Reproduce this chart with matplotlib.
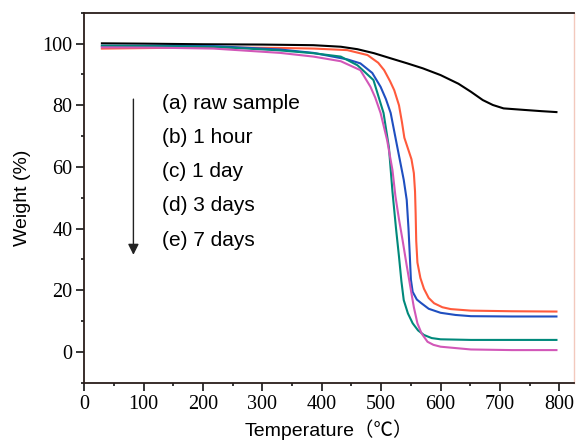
import numpy as np
import matplotlib
matplotlib.use('Agg')
from matplotlib import pyplot as plt
from matplotlib.ticker import MultipleLocator

# TGA curves (temperature in C, weight in %)
t_a = [30, 100, 200, 300, 386, 432, 460, 488, 515, 544, 570, 600, 630, 651, 671, 688, 706, 741, 770, 795]
w_a = [100.1, 100.0, 99.8, 99.7, 99.5, 99.0, 98.2, 96.9, 95.3, 93.6, 92.0, 89.8, 87.0, 84.4, 81.7, 80.1, 79.0, 78.5, 78.1, 77.8]

t_b = [30, 120, 218, 330, 387, 443, 477, 495, 505, 515, 522, 530, 535, 539, 545, 551, 555, 557, 558, 559, 561, 566, 572, 580, 589, 603, 617, 651, 720, 795]
w_b = [98.4, 98.6, 98.8, 98.6, 98.4, 97.9, 96.3, 93.8, 91.4, 87.8, 84.9, 80.0, 74.5, 69.5, 66.0, 62.5, 58.0, 52.0, 45.0, 36.0, 29.0, 24.0, 20.5, 17.5, 15.8, 14.5, 13.9, 13.4, 13.2, 13.1]

t_c = [30, 120, 218, 330, 386, 443, 465, 485, 499, 508, 516, 527, 538, 543, 546, 548, 550, 553, 560, 567, 580, 600, 625, 651, 720, 795]
w_c = [99.3, 99.3, 99.2, 98.1, 97.0, 94.9, 93.6, 90.5, 86.0, 82.0, 77.5, 66.6, 55.8, 49.3, 40.0, 32.0, 23.5, 19.5, 17.0, 15.9, 14.0, 12.7, 12.0, 11.6, 11.5, 11.5]

t_d = [30, 120, 218, 330, 386, 432, 460, 487, 504, 513, 519, 525, 530, 534, 538, 545, 553, 562, 572, 585, 600, 651, 720, 795]
w_d = [99.3, 99.2, 99.0, 97.8, 96.9, 95.8, 93.0, 88.2, 77.5, 66.4, 52.0, 40.0, 30.9, 23.0, 16.8, 12.5, 9.3, 7.0, 5.5, 4.5, 4.1, 3.9, 3.9, 3.9]

t_e = [30, 120, 218, 330, 386, 432, 465, 482, 490, 499, 510, 519, 524, 530, 536, 543, 550, 555, 561, 568, 578, 588, 600, 651, 720, 795]
w_e = [98.8, 98.7, 98.4, 97.0, 95.8, 94.3, 91.4, 86.0, 82.5, 77.5, 68.7, 59.0, 50.5, 43.0, 36.3, 28.0, 20.1, 14.5, 9.3, 6.0, 3.3, 2.3, 1.7, 0.8, 0.6, 0.6]

labels = ['(a) raw sample', '(b) 1 hour', '(c) 1 day', '(d) 3 days', '(e) 7 days']
colors = ['#000000', '#ff5a3c', '#1f4fc0', '#00897b', '#d257b8']

fig = plt.figure(figsize=(5.76, 4.42), dpi=100)
ax = fig.add_axes([0.146, 0.134, 0.851, 0.837])

for t, w, c in zip([t_a, t_b, t_c, t_d, t_e], [w_a, w_b, w_c, w_d, w_e], colors):
    ax.plot(t, w, color=c, lw=1.5, solid_joinstyle='round')

ax.set_xlim(0, 825)
ax.set_ylim(-10, 110)
ax.xaxis.set_major_locator(MultipleLocator(100))
ax.xaxis.set_minor_locator(MultipleLocator(50))
ax.yaxis.set_major_locator(MultipleLocator(20))
ax.yaxis.set_minor_locator(MultipleLocator(10))
ax.tick_params(which='major', direction='out', length=5.5, width=1.1, labelsize=14.5, pad=3)
ax.tick_params(which='minor', direction='out', length=2.5, width=1.1)
for lab in ax.get_xticklabels() + ax.get_yticklabels():
    lab.set_family('Liberation Serif')

for s in ['left', 'bottom', 'top']:
    ax.spines[s].set_linewidth(1.3)
    ax.spines[s].set_color('#2a1e1a')
ax.spines['right'].set_color('#f3c9bd')
ax.spines['right'].set_linewidth(1.0)

ax.set_xlabel('Temperature（℃）', fontsize=14, family=['Liberation Sans', 'Noto Sans CJK SC'], labelpad=4)
ax.set_ylabel('Weight (%)', fontsize=14, family='Liberation Sans', labelpad=8)

# legend-like text list with arrow
ys = [80.7, 69.6, 58.5, 47.4, 36.3]
for lab, y in zip(labels, ys):
    ax.text(131, y, lab, fontsize=15, family='Liberation Sans', va='center', ha='left')
ax.annotate('', xy=(83, 31.5), xytext=(83, 82),
            arrowprops=dict(arrowstyle='-|>', color='#222222', lw=1.0,
                            mutation_scale=16, shrinkA=0, shrinkB=0))

fig.savefig('out.png', dpi=100)
